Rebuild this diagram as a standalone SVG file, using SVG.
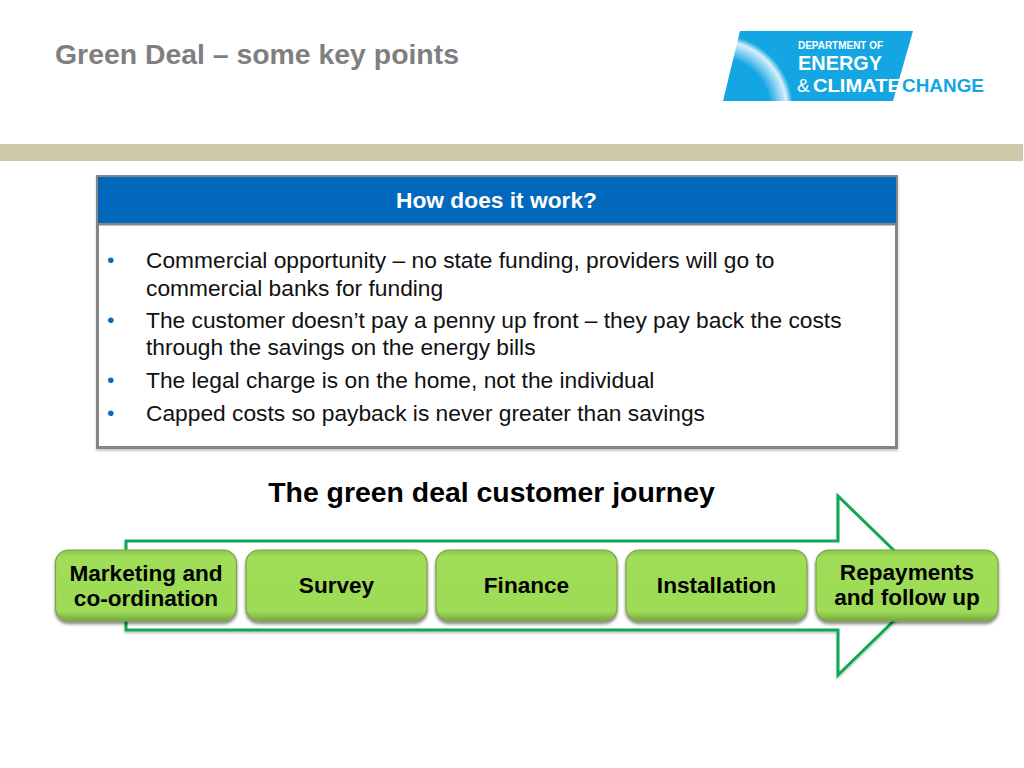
<svg xmlns="http://www.w3.org/2000/svg" width="1024" height="768" viewBox="0 0 1024 768">
<defs>
<linearGradient id="g" x1="0" y1="0" x2="0" y2="1">
<stop offset="0" stop-color="#86c84a"/><stop offset="0.1" stop-color="#a0dd58"/><stop offset="0.86" stop-color="#9edb56"/><stop offset="1" stop-color="#74a93f"/>
</linearGradient>
<radialGradient id="glow" gradientUnits="userSpaceOnUse" cx="719" cy="109" r="85">
<stop offset="0" stop-color="#14a6e3"/><stop offset="0.6" stop-color="#14a6e3"/><stop offset="0.8" stop-color="#d8f0fb"/><stop offset="0.87" stop-color="#14a6e3"/>
</radialGradient>
<filter id="sh" x="-10%" y="-10%" width="120%" height="125%"><feDropShadow dx="0" dy="2.500" stdDeviation="1.500" flood-color="#000" flood-opacity="0.5"/></filter>
<filter id="sh2" x="-5%" y="-5%" width="110%" height="115%"><feDropShadow dx="0" dy="2" stdDeviation="1.200" flood-color="#000" flood-opacity="0.22"/></filter>
</defs>
<style>
text{font-family:"Liberation Sans",Arial,sans-serif}
.n rect{fill:url(#g);stroke:#7f9f4a;stroke-width:1.2;filter:url(#sh)}
.n text{font-size:22.600px;font-weight:700;fill:#000;text-anchor:middle}
.b{font-size:22.750px;fill:#111}
.d{font-size:21px;fill:#0a68b4}
.l{font-weight:700;fill:#fff}
</style>
<rect width="1024" height="768" fill="#fff"/>
<text x="55" y="64" font-size="28.400" font-weight="700" fill="#7f7f7f">Green Deal – some key points</text>
<g id="logo">
<path d="M740 31H913L893 101H723Z" fill="url(#glow)"/>
<text class="l" x="798" y="49" font-size="10.500" textLength="85" lengthAdjust="spacingAndGlyphs">DEPARTMENT OF</text>
<text class="l" x="798" y="70" font-size="20" textLength="84" lengthAdjust="spacingAndGlyphs">ENERGY</text>
<text x="797" y="91.500" font-size="19" fill="#fff">&amp;</text>
<text class="l" x="813" y="91.500" font-size="19" textLength="88" lengthAdjust="spacingAndGlyphs">CLIMATE</text>
<text x="902" y="91.500" font-size="19" font-weight="700" fill="#14a6e3" textLength="82" lengthAdjust="spacingAndGlyphs">CHANGE</text>
</g>
<rect x="0" y="144" width="1023" height="17" fill="#cdc8a8"/>
<g id="panel">
<rect x="97.500" y="176.500" width="799" height="271" fill="#fff" stroke="#858585" stroke-width="3" filter="url(#sh2)"/>
<rect x="98" y="177" width="798" height="46" fill="#0268bc"/>
<rect x="97" y="223" width="800" height="2.500" fill="#858585"/>
<text x="496.500" y="208" font-size="22.750" font-weight="700" fill="#fff" text-anchor="middle">How does it work?</text>
<text class="d" x="107" y="267">•</text>
<text class="b" x="146" y="268">Commercial opportunity – no state funding, providers will go to</text>
<text class="b" x="146" y="296">commercial banks for funding</text>
<text class="d" x="107" y="327">•</text>
<text class="b" x="146" y="328">The customer doesn’t pay a penny up front – they pay back the costs</text>
<text class="b" x="146" y="355">through the savings on the energy bills</text>
<text class="d" x="107" y="387">•</text>
<text class="b" x="146" y="388">The legal charge is on the home, not the individual</text>
<text class="d" x="107" y="420">•</text>
<text class="b" x="146" y="421">Capped costs so payback is never greater than savings</text>
</g>
<text x="491.500" y="502" font-size="28.400" font-weight="700" fill="#000" text-anchor="middle">The green deal customer journey</text>
<g id="connectors">
<path id="journey-arrow" d="M126 541H838V496L930 585.500L838 675V630H126Z" fill="#fff" stroke="#0fa853" stroke-width="3" filter="url(#sh2)"/>
</g>
<g id="n1" class="n"><rect x="55.500" y="550" width="181" height="71" rx="13"/><text x="146" y="581">Marketing and</text><text x="146" y="606">co-ordination</text></g>
<g id="n2" class="n"><rect x="246" y="550" width="181" height="71" rx="13"/><text x="336.500" y="593">Survey</text></g>
<g id="n3" class="n"><rect x="436" y="550" width="181" height="71" rx="13"/><text x="526.500" y="593">Finance</text></g>
<g id="n4" class="n"><rect x="626" y="550" width="181" height="71" rx="13"/><text x="716.500" y="593">Installation</text></g>
<g id="n5" class="n"><rect x="816" y="550" width="182" height="71" rx="13"/><text x="907" y="580">Repayments</text><text x="907" y="605">and follow up</text></g>
</svg>
